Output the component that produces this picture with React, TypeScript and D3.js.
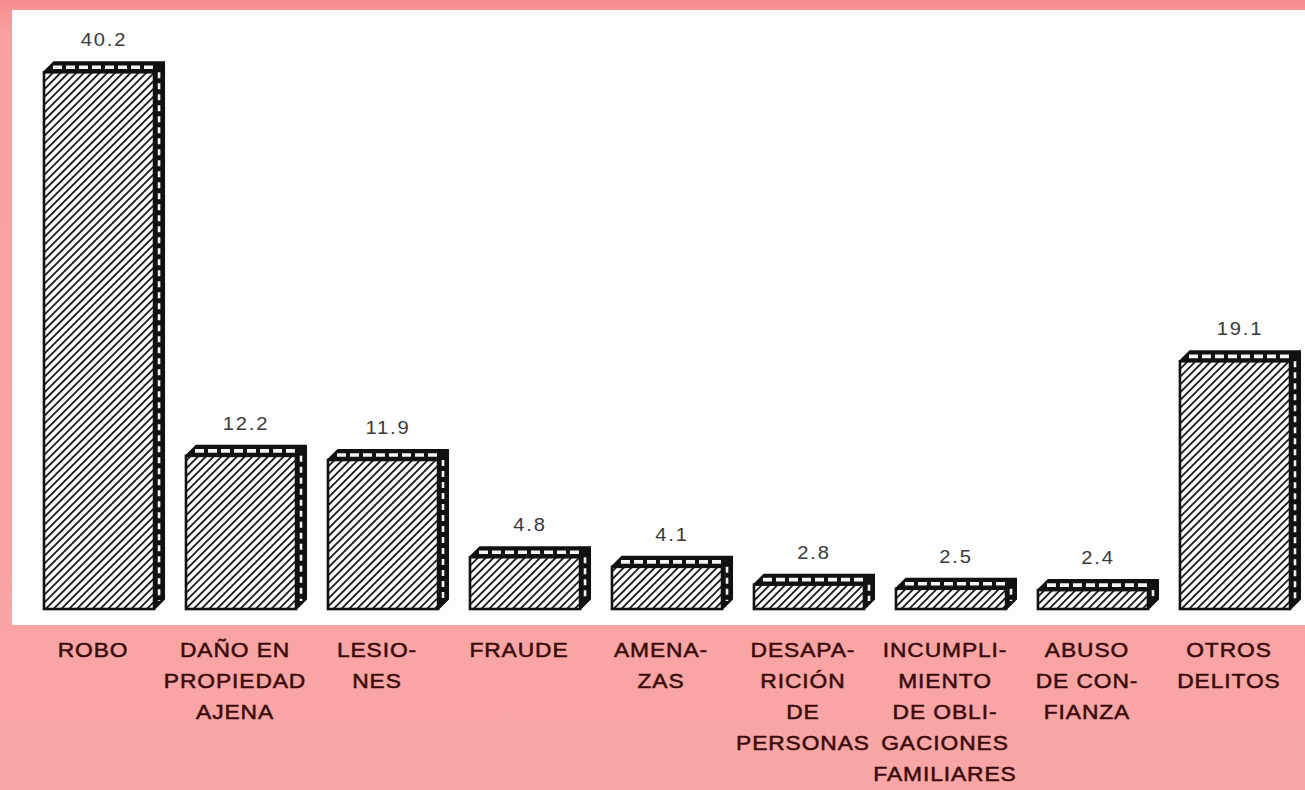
import React from "react";
import * as d3 from "d3";

const categories: string[][] = [
  ["ROBO"],
  ["DAÑO EN", "PROPIEDAD", "AJENA"],
  ["LESIO-", "NES"],
  ["FRAUDE"],
  ["AMENA-", "ZAS"],
  ["DESAPA-", "RICIÓN", "DE", "PERSONAS"],
  ["INCUMPLI-", "MIENTO", "DE OBLI-", "GACIONES", "FAMILIARES"],
  ["ABUSO", "DE CON-", "FIANZA"],
  ["OTROS", "DELITOS"],
];
const values: number[] = [40.2, 12.2, 11.9, 4.8, 4.1, 2.8, 2.5, 2.4, 19.1];

const W = 1305;
const H = 790;
const panel = { x: 12, y: 10, w: 1293, h: 615 };
const baseY = 609;
const DX = 10;
const DY = 10;

export default function App() {
  const x = d3
    .scaleBand<number>()
    .domain(values.map((_, i) => i))
    .range([44, 1290])
    .paddingInner(0.225)
    .paddingOuter(0);
  const y = d3.scaleLinear().domain([0, 45]).range([623, 623 - 45 * 13.7]);
  const bw = x.bandwidth();
  const fmt = d3.format(".1f");

  return (
    <svg
      width={W}
      height={H}
      style={{ position: "absolute", left: 0, top: 0, display: "block" }}
    >
      <defs>
        <pattern
          id="hatch"
          patternUnits="userSpaceOnUse"
          width={5.5}
          height={10}
          patternTransform="rotate(45)"
        >
          <rect width={5.5} height={10} fill="#fbfbfb" />
          <line x1={0.9} y1={0} x2={0.9} y2={10} stroke="#1a1a1a" strokeWidth={1.8} />
        </pattern>
        <linearGradient id="bg" x1="0" y1="0" x2="0" y2="1">
          <stop offset="0" stopColor="#f68c8c" />
          <stop offset="0.04" stopColor="#f8a0a0" />
          <stop offset="1" stopColor="#f9a6a6" />
        </linearGradient>
      </defs>
      <rect x={0} y={0} width={W} height={H} fill="url(#bg)" />
      <rect x={panel.x} y={panel.y} width={panel.w} height={panel.h} fill="#fdfdfd" />

      {values.map((v, i) => {
        const x0 = x(i) as number;
        const x1 = x0 + bw;
        const yt = y(v);
        const topPath = `M${x0},${yt} L${x0 + DX},${yt - DY} L${x1 + DX},${yt - DY} L${x1},${yt} Z`;
        const sidePath = `M${x1},${yt} L${x1 + DX},${yt - DY} L${x1 + DX},${baseY - DY} L${x1},${baseY} Z`;
        const cx = x0 + bw / 2 + DX / 2;
        return (
          <g key={i}>
            <path d={sidePath} fill="#111" stroke="#111" strokeWidth={2} strokeLinejoin="round" />
            <line
              x1={x1 + DX / 2}
              y1={yt - DY / 2 + 5}
              x2={x1 + DX / 2}
              y2={baseY - DY / 2 - 3}
              stroke="#f4f4f4"
              strokeWidth={2.6}
              strokeDasharray="6 5"
            />
            <path d={topPath} fill="#111" stroke="#111" strokeWidth={2} strokeLinejoin="round" />
            <line
              x1={x0 + DX / 2 + 4}
              y1={yt - DY / 2}
              x2={x1 + DX / 2 - 2}
              y2={yt - DY / 2}
              stroke="#f4f4f4"
              strokeWidth={3.6}
              strokeDasharray="9 4"
            />
            <rect
              x={x0}
              y={yt}
              width={bw}
              height={baseY - yt}
              fill="url(#hatch)"
              stroke="#111"
              strokeWidth={2.6}
            />
            <text
              transform={`translate(${cx},${yt - 26}) scale(1.12,1)`}
              textAnchor="middle"
              fontFamily="'Liberation Sans', Arial, sans-serif"
              fontSize={18}
              letterSpacing={1.6}
              fill="#3a3a3a"
            >
              {fmt(v)}
            </text>
          </g>
        );
      })}

      {categories.map((lines, i) => {
        const cx = (x(i) as number) + bw / 2 - 6;
        return (
          <text
            key={i}
            transform={`translate(${cx},0) scale(1.14,1)`}
            textAnchor="middle"
            fontFamily="'Liberation Sans', Arial, sans-serif"
            fontSize={20}
            letterSpacing={0.8}
            fill="#3a0a0a"
            stroke="#3a0a0a"
            strokeWidth={0.5}
          >
            {lines.map((ln, j) => (
              <tspan key={j} x={0} y={657 + j * 31}>
                {ln}
              </tspan>
            ))}
          </text>
        );
      })}
    </svg>
  );
}
